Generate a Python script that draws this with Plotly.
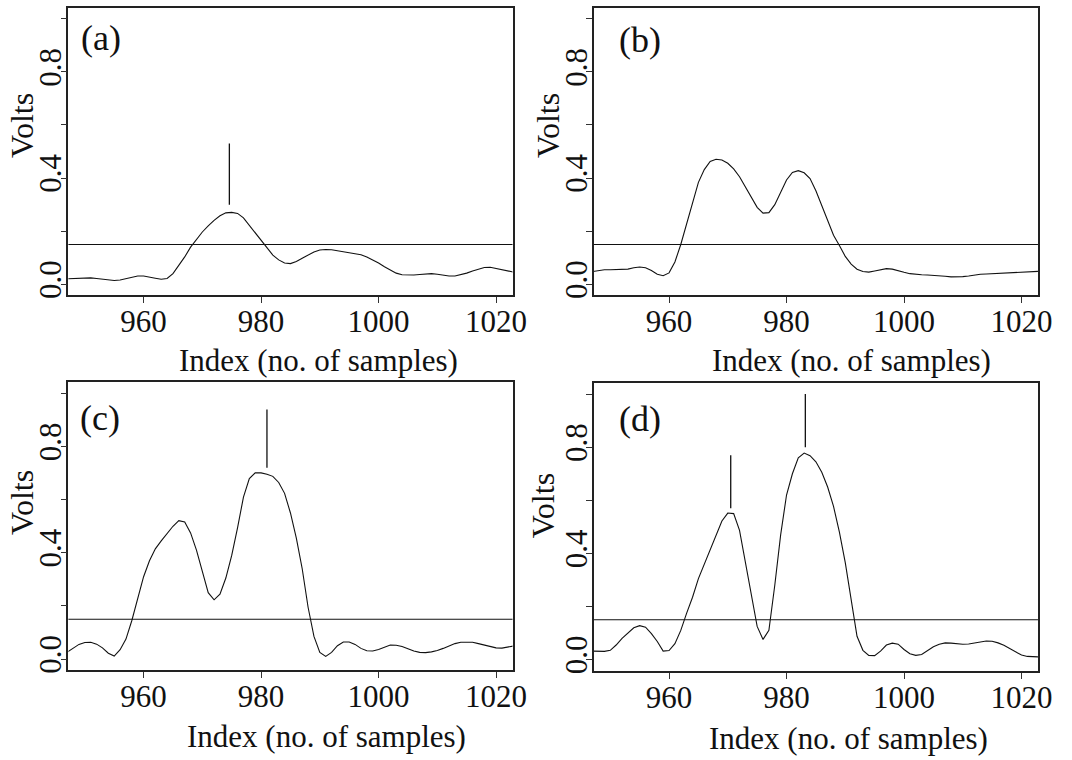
import plotly.graph_objects as go

W, H = 1072, 760

index = list(range(947, 1024))

volts_a = [0.021, 0.022, 0.023, 0.024, 0.024, 0.022, 0.019, 0.016, 0.014, 0.016,
           0.021, 0.027, 0.031, 0.031, 0.028, 0.023, 0.019, 0.022, 0.040, 0.071,
           0.103, 0.140, 0.170, 0.197, 0.220, 0.241, 0.258, 0.269, 0.271, 0.267,
           0.250, 0.222, 0.193, 0.165, 0.136, 0.110, 0.092, 0.080, 0.078, 0.086,
           0.098, 0.111, 0.122, 0.129, 0.131, 0.130, 0.127, 0.123, 0.119, 0.115,
           0.111, 0.103, 0.092, 0.080, 0.066, 0.053, 0.042, 0.036, 0.035, 0.035,
           0.037, 0.039, 0.040, 0.038, 0.034, 0.031, 0.031, 0.036, 0.042, 0.050,
           0.058, 0.063, 0.064, 0.060, 0.055, 0.050, 0.046]

volts_b = [0.048, 0.052, 0.055, 0.055, 0.055, 0.055, 0.057, 0.062, 0.065, 0.062,
           0.052, 0.038, 0.032, 0.043, 0.084, 0.150, 0.225, 0.305, 0.384, 0.432,
           0.463, 0.471, 0.468, 0.456, 0.435, 0.405, 0.366, 0.325, 0.290, 0.268,
           0.270, 0.300, 0.345, 0.393, 0.421, 0.428, 0.420, 0.398, 0.352, 0.297,
           0.238, 0.185, 0.146, 0.105, 0.076, 0.057, 0.048, 0.046, 0.050, 0.055,
           0.059, 0.057, 0.050, 0.045, 0.040, 0.037, 0.036, 0.035, 0.034, 0.032,
           0.030, 0.028, 0.028, 0.029, 0.031, 0.035, 0.038, 0.039, 0.040, 0.041,
           0.042, 0.043, 0.045, 0.046, 0.047, 0.048, 0.049]

volts_c = [0.026, 0.040, 0.055, 0.062, 0.063, 0.056, 0.042, 0.022, 0.011, 0.035,
           0.075, 0.145, 0.226, 0.310, 0.370, 0.415, 0.445, 0.472, 0.500, 0.521,
           0.516, 0.475, 0.410, 0.330, 0.250, 0.223, 0.244, 0.305, 0.390, 0.495,
           0.610, 0.680, 0.701, 0.701, 0.696, 0.688, 0.665, 0.624, 0.550, 0.455,
           0.340, 0.195, 0.085, 0.025, 0.010, 0.025, 0.050, 0.064, 0.064, 0.055,
           0.040, 0.031, 0.030, 0.036, 0.045, 0.053, 0.052, 0.047, 0.039, 0.030,
           0.025, 0.024, 0.027, 0.032, 0.040, 0.050, 0.058, 0.063, 0.064, 0.063,
           0.058, 0.052, 0.046, 0.042, 0.041, 0.044, 0.049]

volts_d = [0.032, 0.032, 0.031, 0.035, 0.055, 0.080, 0.100, 0.120, 0.128, 0.122,
           0.098, 0.068, 0.032, 0.034, 0.060, 0.110, 0.175, 0.235, 0.305, 0.360,
           0.415, 0.470, 0.522, 0.552, 0.550, 0.487, 0.365, 0.238, 0.125, 0.076,
           0.110, 0.280, 0.470, 0.620, 0.700, 0.760, 0.778, 0.768, 0.745, 0.706,
           0.650, 0.577, 0.480, 0.365, 0.220, 0.088, 0.035, 0.016, 0.015, 0.032,
           0.055, 0.062, 0.058, 0.038, 0.022, 0.016, 0.019, 0.033, 0.048, 0.058,
           0.063, 0.062, 0.060, 0.058, 0.059, 0.063, 0.067, 0.070, 0.069, 0.063,
           0.054, 0.042, 0.027, 0.017, 0.012, 0.010, 0.010]

threshold = 0.15

# detected peak markers: position, lower end, upper end
peak_x = {"a": [974.6], "b": [], "c": [981.0], "d": [970.5, 983.2]}
peak_lo = {"a": [0.30], "b": [], "c": [0.72], "d": [0.57, 0.80]}
peak_hi = {"a": [0.53], "b": [], "c": [0.94], "d": [0.77, 1.00]}

panel_labels = ["(a)", "(b)", "(c)", "(d)"]
x_tickvals = [960, 980, 1000, 1020]
y_tickvals = [0.0, 0.2, 0.4, 0.6, 0.8, 1.0]
y_ticktext = ["0.0", "", "0.4", "", "0.8", ""]
x_title = "Index (no. of samples)"
y_title = "Volts"

FONT = "Liberation Serif, Times New Roman, serif"

# panel boxes in pixels: left, right, top, bottom
boxes = {
    "a": (69.3, 519.3, 7.7, 297.0),
    "b": (601.7, 1051.7, 7.7, 297.0),
    "c": (69.3, 519.3, 384.4, 673.7),
    "d": (601.7, 1051.7, 385.0, 674.3),
}


def px(x):
    return x / W


def py(y):
    return 1 - y / H


fig = go.Figure()
series = {"a": volts_a, "b": volts_b, "c": volts_c, "d": volts_d}
keys = ["a", "b", "c", "d"]

layout = dict(
    width=W, height=H,
    margin=dict(l=0, r=0, t=0, b=0),
    paper_bgcolor="white", plot_bgcolor="white",
    showlegend=False,
    font=dict(family=FONT, size=31, color="#111"),
)

annotations = []
shapes = []

for i, k in enumerate(keys):
    n = "" if i == 0 else str(i + 1)
    xa, ya = "x" + n, "y" + n
    l, r, t, b = boxes[k]
    fig.add_trace(go.Scatter(x=index, y=series[k], mode="lines",
                             line=dict(color="#111", width=1.1),
                             xaxis=xa, yaxis=ya, hoverinfo="skip"))
    for xm, lo, hi in zip(peak_x[k], peak_lo[k], peak_hi[k]):
        fig.add_trace(go.Scatter(x=[xm, xm], y=[lo, hi], mode="lines",
                                 line=dict(color="#111", width=1.3),
                                 xaxis=xa, yaxis=ya, hoverinfo="skip"))
    shapes.append(dict(type="line", xref=xa + " domain", yref=ya,
                       x0=0, x1=1, y0=threshold, y1=threshold,
                       line=dict(color="#111", width=1.1)))
    layout["xaxis" + n] = dict(
        domain=[px(l), px(r)], anchor=ya, range=[947.2, 1022.8],
        tickvals=x_tickvals, ticks="outside", ticklen=6, tickwidth=1,
        tickcolor="#333", showline=True, mirror=True, linecolor="#222",
        linewidth=1.6, showgrid=False, zeroline=False,
        tickfont=dict(family=FONT, size=31, color="#111"),
        ticklabelstandoff=-8,
    )
    layout["yaxis" + n] = dict(
        domain=[py(b), py(t)], anchor=xa, range=[-0.042, 1.042],
        tickvals=y_tickvals, ticktext=y_ticktext, tickangle=-90,
        ticks="outside", ticklen=6, tickwidth=1, tickcolor="#333",
        showline=True, mirror=True, linecolor="#222", linewidth=1.6,
        showgrid=False, zeroline=False,
        tickfont=dict(family=FONT, size=31, color="#111"),
        ticklabelstandoff=-13,
    )

# panel labels
label_pos = {"a": (102.7, 38.3), "b": (648.0, 40.0), "c": (101.6, 420.0), "d": (648.0, 420.8)}
for k, lab in zip(keys, panel_labels):
    x, y = label_pos[k]
    annotations.append(dict(text=lab, x=px(x), y=py(y), xref="paper", yref="paper",
                            showarrow=False, xanchor="center", yanchor="middle",
                            font=dict(family=FONT, size=36, color="#111")))

# axis titles
xt_pos = {"a": (322.5, 362.0), "b": (862.7, 362.0), "c": (331.0, 740.5), "d": (860.0, 742.0)}
yt_pos = {"a": (23.0, 126.0), "b": (556.0, 126.0), "c": (23.0, 505.0), "d": (551.0, 508.0)}
for k in keys:
    x, y = xt_pos[k]
    annotations.append(dict(text=x_title, x=px(x), y=py(y), xref="paper", yref="paper",
                            showarrow=False, xanchor="center", yanchor="middle",
                            font=dict(family=FONT, size=31, color="#111")))
    x, y = yt_pos[k]
    annotations.append(dict(text=y_title, x=px(x), y=py(y), xref="paper", yref="paper",
                            showarrow=False, xanchor="center", yanchor="middle",
                            textangle=-90,
                            font=dict(family=FONT, size=32, color="#111")))

layout["annotations"] = annotations
layout["shapes"] = shapes
fig.update_layout(**layout)

fig.write_html("out.html")
